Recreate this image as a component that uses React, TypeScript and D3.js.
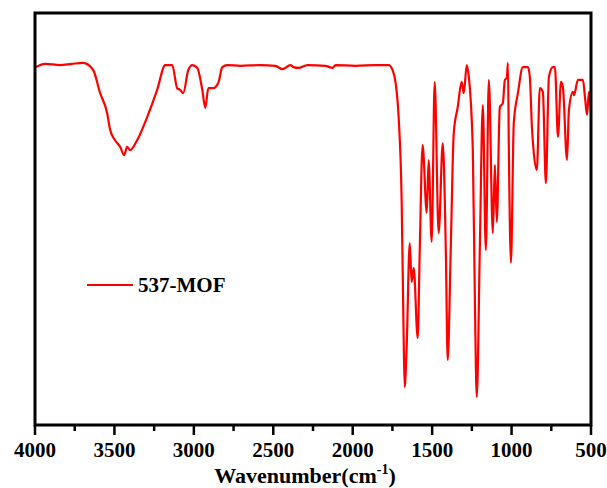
import React from 'react';
import * as d3 from 'd3';

// FTIR spectrum of 537-MOF
const wavenumbers = [
  3994, 3937, 3842, 3767, 3697, 3634, 3590, 3546, 3527, 3496, 3464, 3439, 3420, 3401, 3357, 3294,
  3231, 3180, 3136, 3105, 3086, 3067, 3035, 3010, 2978, 2947, 2928, 2909, 2878, 2846, 2821, 2789,
  2707, 2581, 2487, 2442, 2392, 2373, 2342, 2285, 2171, 2127, 2108, 1982, 1856, 1774, 1749, 1730,
  1711, 1692, 1680, 1673, 1661, 1641, 1629, 1616, 1591, 1578, 1560, 1534, 1522, 1503, 1484, 1459,
  1433, 1414, 1402, 1383, 1364, 1339, 1314, 1301, 1282, 1269, 1244, 1231, 1219, 1200, 1181, 1162,
  1143, 1118, 1105, 1093, 1074, 1055, 1042, 1030, 1023, 1017, 1004, 986, 960, 929, 897, 885,
  872, 860, 841, 822, 803, 784, 765, 740, 727, 708, 689, 677, 651, 639, 614, 607,
  582, 551, 538, 525, 513, 500,
];
const transmittance = [
  86.9, 87.7, 87.4, 87.7, 87.9, 86.2, 80.6, 75.8, 71.7, 69.2, 67.6, 65.6, 67.6, 66.8, 69.2, 74.8,
  81.4, 87.4, 87.4, 81.8, 81.4, 80.6, 86.2, 87.4, 86.7, 81.4, 77.0, 81.8, 81.8, 83.1, 86.9, 87.4,
  87.2, 87.4, 87.2, 86.4, 87.4, 86.9, 86.7, 87.4, 87.2, 86.7, 87.4, 87.2, 87.4, 87.4, 86.2, 83.1,
  74.8, 54.7, 23.2, 9.4, 18.4, 44.3, 34.9, 38.3, 21.3, 42.6, 68.0, 51.6, 64.4, 44.6, 83.3, 46.7,
  68.5, 42.6, 16.0, 42.6, 70.9, 77.2, 83.3, 80.6, 87.4, 84.5, 66.8, 30.5, 7.0, 42.6, 77.7, 42.6,
  83.8, 46.7, 63.2, 49.4, 77.2, 78.2, 83.8, 84.3, 87.9, 66.8, 39.5, 73.4, 80.6, 86.9, 86.9, 84.5,
  72.4, 66.1, 62.0, 81.8, 80.9, 58.8, 84.5, 86.9, 86.9, 70.0, 83.3, 82.1, 64.4, 76.5, 80.9, 80.1,
  83.8, 83.8, 79.7, 75.3, 80.9, 75.8,
];
const xTicks = [4000, 3500, 3000, 2500, 2000, 1500, 1000, 500];
const xMinorTicks = [3750, 3250, 2750, 2250, 1750, 1250, 750];
const seriesName = '537-MOF';

const W = 607;
const H = 488;
const left = 35;
const right = 591;
const top = 13;
const bottom = 425;
const font = '"Liberation Serif", "Times New Roman", serif';

export default function App() {
  const x = d3.scaleLinear().domain([4000, 500]).range([left, right]);
  const y = d3.scaleLinear().domain([0, 100]).range([bottom + 1, top]);

  const points = wavenumbers.map((w, i) => [w, transmittance[i]] as [number, number]);
  const line = d3
    .line<[number, number]>()
    .x(d => x(d[0]))
    .y(d => y(d[1]))
    .curve(d3.curveMonotoneX);

  return (
    <svg width={W} height={H} style={{ position: 'absolute', left: 0, top: 0, background: '#fff' }}>
      <path d={line(points) || ''} fill="none" stroke="#ff0000" strokeWidth={2.2} strokeLinejoin="round" />

      <rect x={left} y={top} width={right - left} height={bottom - top} fill="none" stroke="#000" strokeWidth={3} />

      {xTicks.map(t => (
        <g key={t}>
          <line x1={x(t)} x2={x(t)} y1={bottom} y2={bottom + 10} stroke="#000" strokeWidth={2.5} />
          <text x={x(t)} y={bottom + 32} textAnchor="middle" fontFamily={font} fontWeight="bold" fontSize={21}>
            {t}
          </text>
        </g>
      ))}
      {xMinorTicks.map(t => (
        <line key={t} x1={x(t)} x2={x(t)} y1={bottom} y2={bottom + 6} stroke="#000" strokeWidth={2.5} />
      ))}

      <text x={305} y={483} textAnchor="middle" fontFamily={font} fontWeight="bold" fontSize={22}>
        Wavenumber(cm
        <tspan dy={-9} fontSize={14}>-1</tspan>
        <tspan dy={9}>)</tspan>
      </text>

      <line x1={87} x2={133} y1={285} y2={285} stroke="#ff0000" strokeWidth={2} />
      <text x={138} y={292} fontFamily={font} fontWeight="bold" fontSize={21}>
        {seriesName}
      </text>
    </svg>
  );
}
